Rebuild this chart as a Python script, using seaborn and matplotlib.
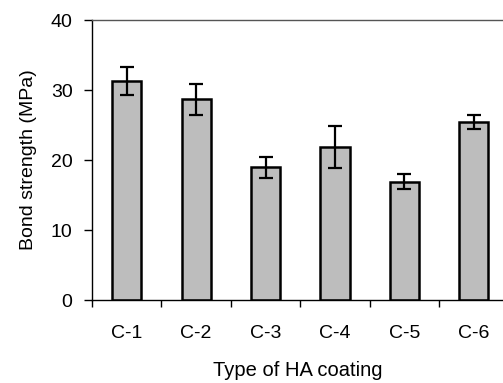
import matplotlib
matplotlib.use("Agg")
import matplotlib.pyplot as plt
import seaborn as sns
import pandas as pd
import numpy as np
from matplotlib.ticker import FixedLocator

categories = ["C-1", "C-2", "C-3", "C-4", "C-5", "C-6"]
strength = [31.3, 28.7, 19.0, 21.9, 16.9, 25.5]
err = [2.0, 2.2, 1.5, 3.0, 1.1, 1.0]
yticks = [0, 10, 20, 30, 40]

sns.set_style("white")
plt.rcParams['font.family'] = ['Liberation Sans', 'DejaVu Sans']
plt.rcParams['text.color'] = 'black'
plt.rcParams['axes.labelcolor'] = 'black'
plt.rcParams['xtick.color'] = 'black'
plt.rcParams['ytick.color'] = 'black'

df = pd.DataFrame({"coating": categories, "strength": strength, "err": err})

fig = plt.figure(figsize=(5.03, 3.83), dpi=100)
ax = fig.add_axes([0.183, 0.2167, 0.817, 0.731])

sns.barplot(data=df, x="coating", y="strength", ax=ax, color="#bdbdbd",
            edgecolor="black", linewidth=1.8, width=0.42, errorbar=None,
            saturation=1)

centers = [p.get_x() + p.get_width() / 2 for p in ax.patches]
ax.errorbar(centers, df["strength"], yerr=df["err"], fmt="none",
            ecolor="black", elinewidth=1.6, capsize=5, capthick=1.6)

ax.set_ylim(0, 40)
ax.set_xlim(-0.5, 5.42)
ax.set_yticks(yticks)
ax.set_yticklabels([str(v) for v in yticks])

ax.xaxis.set_minor_locator(FixedLocator(np.arange(-0.5, len(categories), 1.0)))
ax.tick_params(axis="x", which="major", length=0, pad=18, labelsize=14,
               labelcolor="black")
ax.tick_params(axis="x", which="minor", length=5, width=1, direction="out",
               bottom=True, color="black")
ax.tick_params(axis="y", which="major", length=6, width=1, direction="out",
               left=True, color="black", labelsize=14, pad=8,
               labelcolor="black")

for s in ["left", "bottom", "top"]:
    ax.spines[s].set_visible(True)
    ax.spines[s].set_color("black")
    ax.spines[s].set_linewidth(1.0)
ax.spines["top"].set_color("#555555")
ax.spines["right"].set_visible(False)

ax.set_xlabel("Type of HA coating", fontsize=14.5, labelpad=14, color="black")
ax.set_ylabel("Bond strength (MPa)", fontsize=14, labelpad=10, color="black")

fig.savefig("out.png", dpi=100)
